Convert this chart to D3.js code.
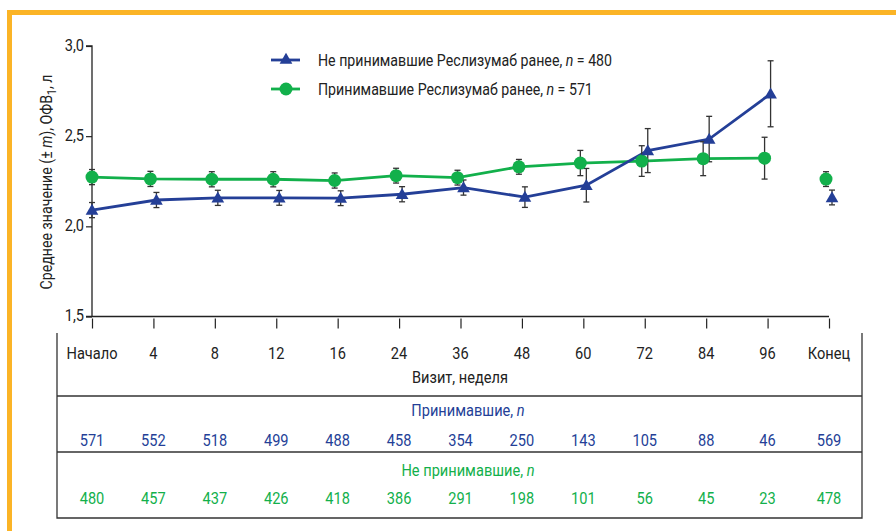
<!DOCTYPE html>
<html>
<head>
<meta charset="utf-8">
<script src="https://cdn.jsdelivr.net/npm/d3@7/dist/d3.min.js"></script>
<style>
  html, body { margin: 0; padding: 0; background: #fff; }
  svg { display: block; }
  text { font-family: "Roboto", "Liberation Sans", sans-serif; font-weight: 400; }
</style>
</head>
<body>
<svg id="chart" width="896" height="531"></svg>
<script>
// Visit labels (x categories)
const visits = ["Начало", "4", "8", "12", "16", "24", "36", "48", "60", "72", "84", "96", "Конец"];

// Mean FEV1 (L) and error (± m) — patients new to reslizumab
const naiveMean = [2.09, 2.146, 2.158, 2.158, 2.156, 2.178, 2.215, 2.162, 2.228, 2.42, 2.484, 2.735, 2.16];
const naiveErr  = [0.042, 0.042, 0.042, 0.041, 0.041, 0.042, 0.042, 0.057, 0.093, 0.122, 0.126, 0.183, 0.041];

// Mean FEV1 (L) and error (± m) — patients previously on reslizumab
const priorMean = [2.273, 2.263, 2.261, 2.261, 2.254, 2.281, 2.27, 2.33, 2.351, 2.362, 2.375, 2.378, 2.262];
const priorErr  = [0.042, 0.042, 0.042, 0.042, 0.042, 0.041, 0.041, 0.041, 0.07, 0.085, 0.094, 0.116, 0.041];

// Patient counts at each visit
const priorN = [571, 552, 518, 499, 488, 458, 354, 250, 143, 105, 88, 46, 569];
const naiveN = [480, 457, 437, 426, 418, 386, 291, 198, 101, 56, 45, 23, 478];

const yTicks = [1.5, 2.0, 2.5, 3.0];

const BLUE = "#243f97";
const GREEN = "#12b04b";
const ORANGE = "#fbb426";
const INK = "#222";
const NARROW = 0.86;   // horizontal squeeze giving a condensed typeface look

const svg = d3.select("#chart");

// Narrow text helper: a text node placed in a horizontally squeezed group
function ntext(parent, x, y, opts = {}) {
  const g = parent.append("g")
    .attr("transform", `translate(${x},${y}) rotate(${opts.rotate || 0}) scale(${NARROW},1)`);
  return g.append("text")
    .attr("dy", "0.35em")
    .attr("text-anchor", opts.anchor || "middle")
    .attr("fill", opts.color || INK)
    .style("font-size", (opts.size || 16) + "px");
}

// Orange frame corner
svg.append("rect").attr("x", 7).attr("y", 10).attr("width", 889).attr("height", 5).attr("fill", ORANGE);
svg.append("rect").attr("x", 7).attr("y", 10).attr("width", 5).attr("height", 521).attr("fill", ORANGE);

const x = d3.scalePoint().domain(visits).range([92, 829]).padding(0);
const y = d3.scaleLinear().domain([1.5, 3.0]).range([316.5, 46]);

// Y axis (tick marks from d3, labels squeezed)
const yAxis = d3.axisLeft(y).tickValues(yTicks).tickSize(6).tickFormat("");
const gy = svg.append("g").attr("transform", "translate(92,0)").call(yAxis);
gy.select(".domain").attr("d", `M-6,${y(3)}H0V${y(1.5)}`).attr("stroke", INK).attr("stroke-width", 1.3);
gy.selectAll(".tick line").attr("stroke", INK).attr("stroke-width", 1.2);
yTicks.forEach(v => {
  ntext(svg, 84, y(v) - 1, { anchor: "end", size: 17 })
    .text(d3.format(".1f")(v).replace(".", ","));
});

// X axis
const xAxis = d3.axisBottom(x).tickSize(0).tickFormat("");
const gx = svg.append("g").attr("transform", `translate(0,${y(1.5)})`).call(xAxis);
gx.select(".domain").attr("d", `M86,0H${x("Конец")}`).attr("stroke", INK).attr("stroke-width", 1.3);
gx.selectAll(".tick").append("line").attr("y1", 2).attr("y2", 12)
  .attr("stroke", INK).attr("stroke-width", 1.2);

// Y axis title
const yt = ntext(svg, 46, 182, { rotate: -90, size: 16.5 });
yt.append("tspan").text("Среднее значение (± ");
yt.append("tspan").attr("font-style", "italic").text("m");
yt.append("tspan").text("), ОФВ");
yt.append("tspan").attr("dy", 4).style("font-size", "12px").text("1");
yt.append("tspan").attr("dy", -4).text(", л");

// Series
const dodge = (i, s) => (i === 0 ? 0 : s);
const series = [
  { key: "prior", mean: priorMean, err: priorErr, color: GREEN, shift: -3, shape: "circle" },
  { key: "naive", mean: naiveMean, err: naiveErr, color: BLUE, shift: 3, shape: "triangle" }
];
const lineGen = d3.line();

series.forEach(s => {
  const pts = visits.map((v, i) => [x(v) + dodge(i, s.shift), y(s.mean[i])]);
  // connecting line over weekly visits (end-of-study point stands alone)
  svg.append("path").attr("d", lineGen(pts.slice(0, 12)))
    .attr("fill", "none").attr("stroke", s.color).attr("stroke-width", 2.8);
  s.pts = pts;
});

// Error bars
series.forEach(s => {
  const g = svg.append("g").attr("stroke", "#333").attr("stroke-width", 1.3);
  s.pts.forEach((p, i) => {
    const y1 = y(s.mean[i] + s.err[i]), y2 = y(s.mean[i] - s.err[i]);
    g.append("line").attr("x1", p[0]).attr("x2", p[0]).attr("y1", y1).attr("y2", y2);
    g.append("line").attr("x1", p[0] - 3).attr("x2", p[0] + 3).attr("y1", y1).attr("y2", y1);
    g.append("line").attr("x1", p[0] - 3).attr("x2", p[0] + 3).attr("y1", y2).attr("y2", y2);
  });
});

// Markers
const tri = d3.symbol().type(d3.symbolTriangle).size(70);
series.forEach(s => {
  s.pts.forEach(p => {
    if (s.shape === "circle") {
      svg.append("circle").attr("cx", p[0]).attr("cy", p[1]).attr("r", 6.5).attr("fill", s.color);
    } else {
      svg.append("path").attr("d", tri()).attr("transform", `translate(${p[0]},${p[1] + 1})`).attr("fill", s.color);
    }
  });
});

// Legend
const legend = [
  { color: BLUE, shape: "triangle", label: "Не принимавшие Реслизумаб ранее, ", n: "480", y: 60 },
  { color: GREEN, shape: "circle", label: "Принимавшие Реслизумаб ранее, ", n: "571", y: 89 }
];
legend.forEach(l => {
  svg.append("line").attr("x1", 271).attr("x2", 300).attr("y1", l.y).attr("y2", l.y)
    .attr("stroke", l.color).attr("stroke-width", 2.8);
  if (l.shape === "circle") {
    svg.append("circle").attr("cx", 286).attr("cy", l.y).attr("r", 6.5).attr("fill", l.color);
  } else {
    svg.append("path").attr("d", tri()).attr("transform", `translate(286,${l.y})`).attr("fill", l.color);
  }
  const t = ntext(svg, 318, l.y, { anchor: "start", size: 16.5 });
  t.append("tspan").text(l.label);
  t.append("tspan").attr("font-style", "italic").text("n");
  t.append("tspan").text(" = " + l.n);
});

// Table below the axis
const tbl = svg.append("g").attr("stroke", "#333").attr("stroke-width", 1.3).attr("fill", "none");
tbl.append("path").attr("d", "M57,333V518H862V333");
tbl.append("line").attr("x1", 57).attr("x2", 862).attr("y1", 396).attr("y2", 396);
tbl.append("line").attr("x1", 57).attr("x2", 862).attr("y1", 452).attr("y2", 452);

visits.forEach(v => ntext(svg, x(v), 353, { size: 17 }).text(v));
ntext(svg, 460, 377, { size: 17 }).text("Визит, неделя");

const h1 = ntext(svg, 468, 410, { color: BLUE, size: 17 });
h1.append("tspan").text("Принимавшие, ");
h1.append("tspan").attr("font-style", "italic").text("n");
priorN.forEach((n, i) => ntext(svg, x(visits[i]), 440, { color: BLUE, size: 17 }).text(n));

const h2 = ntext(svg, 468, 470, { color: GREEN, size: 17 });
h2.append("tspan").text("Не принимавшие, ");
h2.append("tspan").attr("font-style", "italic").text("n");
naiveN.forEach((n, i) => ntext(svg, x(visits[i]), 498, { color: GREEN, size: 17 }).text(n));
</script>
</body>
</html>
